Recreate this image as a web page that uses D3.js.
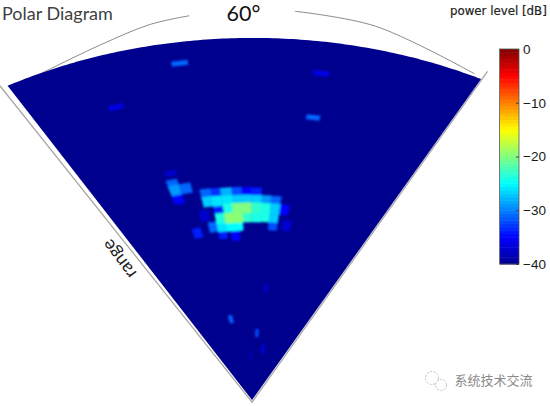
<!DOCTYPE html>
<html><head><meta charset="utf-8">
<style>html,body{margin:0;padding:0;background:#fff}svg{display:block}</style>
<script src="https://cdn.jsdelivr.net/npm/d3@7"></script>
</head><body><svg id="c" width="550" height="406"></svg>
<script>
// ---- data (angle in deg, range in % of max, level in dB) ----
const colorbarTicks = [0,-10,-20,-30,-40];
const cellAngles = [
 -8.7,-6.6,-4.4,-2.3,-0.2,2.0,
 -8.7,-6.6,-4.4,-2.3,-0.2,2.0,4.1,6.3,
 -6.6,-4.4,-2.3,-0.2,2.0,4.1,6.3,8.4,
 -6.6,-4.4,-2.3,-0.2,2.0,4.1,6.3,
 -8.7,-6.6,-4.4,-2.3,6.3,
 -6.6,
 -13.0,-3.3,-10.1,9.7,-14.7,-14.7,-12.4,-14.7];
const cellRanges = [
 57.7,57.6,57.5,57.5,57.4,57.3,
 55.5,55.4,55.3,55.3,55.3,55.2,55.2,55.1,
 53.2,53.1,53.1,53.1,53.1,53.0,53.0,52.9,
 50.6,50.5,50.5,50.5,50.5,50.6,50.6,
 48.4,48.3,48.2,48.2,48.4,
 46.3,
 47.4,45.6,51.8,48.6,60,61.6,60,57.5];
const cellLevels = [
 -31,-33,-28,-32,-35,-34,
 -27,-26,-26,-27,-27,-27,-29,-31,
 -34,-24,-20,-20,-23,-24,-27,-35,
 -24,-19.5,-19.5,-23,-24,-24,-27,
 -31,-26,-25,-25,-32,
 -34,
 -34,-35,-37,-37,-29,-31,-31,-35];
const speckAngles = [-8.3,10.3,10.5,-18.6,-10.3,4.3,6.5,10.4,-0.2,-14.4];
const speckRanges = [94.2,91.3,79,85.5,22.7,18.5,31.1,14.3,12.4,64.8];
const speckLevels = [-31,-36,-31,-36,-31,-32,-38,-35,-38,-37];
const outerArcAngles = [-26.2,-17.2,-10.7,-6.1];
const outerArcRanges = [99.7,102.8,105.8,106.9];
const outerArcAngles2 = [5.9,15.3,28.9];
const outerArcRanges2 = [107.7,106.2,100.7];
const edgeAngles = [-30.8,0,30.1];
const edgeRanges = [100.8,-0.6,102.5];
const jetLevels = [-40,-35,-25,-15,-5,0];
const jetColors = ["#00008f","#0000ff","#00ffff","#ffff00","#ff0000","#800000"];

// ---- scales ----
const svg = d3.select("#c");
const halfSpan = 28.7*Math.PI/180;
const angleS = d3.scaleLinear().domain([-30,30]).range([-halfSpan,halfSpan]);
const rangeS = d3.scaleLinear().domain([0,100]).range([0,1]);
const color = d3.scaleLinear().domain(jetLevels).range(jetColors).clamp(true);
function project(a,r){
  const t=angleS(a), R=rangeS(r), u=R*Math.sin(t), v=R*Math.cos(t);
  return [252+493*u-8.7*v, 400-362*v-7*u];
}
const line = d3.line();

// gray frame beneath the sector
const frame = svg.append("g").attr("fill","none");
frame.append("path").attr("stroke","#a8a8a8").attr("stroke-width",1.3)
  .attr("d",line(edgeAngles.map((a,i)=>project(a,edgeRanges[i]))));
const arcLine = d3.line().curve(d3.curveCatmullRom);
frame.append("path").attr("stroke","#7d7d7d").attr("stroke-width",0.9)
  .attr("d",arcLine(outerArcAngles.map((a,i)=>project(a,outerArcRanges[i]))));
frame.append("path").attr("stroke","#7d7d7d").attr("stroke-width",0.9)
  .attr("d",arcLine(outerArcAngles2.map((a,i)=>project(a,outerArcRanges2[i]))));

// sector
const arcA = d3.range(-30,30.01,0.5);
const sector = [project(0,0),...arcA.map(a=>project(a,100))];
svg.append("path").attr("d",line(sector)+"Z").attr("fill",color(-40));

// cells
const defs = svg.append("defs");
defs.append("filter").attr("id","soft").attr("x","-5%").attr("y","-5%").attr("width","110%").attr("height","110%")
  .append("feGaussianBlur").attr("stdDeviation",0.8);
function cellPath(a,r,da,dr){
  const p=[[a-da/2,r+dr/2],[a+da/2,r+dr/2],[a+da/2,r-dr/2],[a-da/2,r-dr/2]];
  return line(p.map(q=>project(q[0],q[1])))+"Z";
}
const g = svg.append("g").attr("filter","url(#soft)");
const cells = cellAngles.map((a,i)=>({a,r:cellRanges[i],l:cellLevels[i]}));
const specks = speckAngles.map((a,i)=>({a,r:speckRanges[i],l:speckLevels[i]}));
g.selectAll(".cell").data(cells.slice().sort((p,q)=>p.l-q.l)).join("path").attr("class","cell")
  .attr("d",d=>cellPath(d.a,d.r,2.14,2.7)).attr("fill",d=>color(d.l))
  .attr("stroke",d=>color(d.l)).attr("stroke-width",0.6);
g.selectAll(".speck").data(specks).join("path").attr("class","speck")
  .attr("d",d=>cellPath(d.a,d.r,2.14,d.r<40?2.2:1.4)).attr("fill",d=>color(d.l));

// colorbar
const barY = d3.scaleLinear().domain([0,-40]).range([49,264]);
const bar = svg.append("g");
const barSteps = d3.range(64).map(i=>-40+40*(i+0.5)/64);
bar.selectAll("rect").data(barSteps).join("rect")
  .attr("x",500).attr("width",19)
  .attr("y",d=>barY(d+0.3125)).attr("height",d=>barY(d-0.3125)-barY(d+0.3125)+0.5)
  .attr("fill",d=>color(d));
bar.append("rect").attr("x",499.5).attr("y",49).attr("width",19.5).attr("height",215)
  .attr("fill","none").attr("stroke","#555").attr("stroke-width",0.8);
const axis = d3.axisRight(barY).tickValues(colorbarTicks).tickSize(-3).tickPadding(4).tickFormat(d3.format("d"));
const ax = svg.append("g").attr("transform","translate(519,0)").call(axis);
ax.select(".domain").remove();
ax.selectAll("line").attr("stroke","#444");
ax.selectAll("text").attr("font-family","'Liberation Sans',Arial,sans-serif").attr("font-size",13.5).attr("fill","#1a1a1a");

// text
const txt=(s,x,y,size,fam,fill,extra)=>{const t=svg.append("text").attr("x",x).attr("y",y).attr("font-size",size).attr("font-family",fam).attr("fill",fill).text(s);if(extra)extra(t);return t;};
txt("Polar Diagram",2,20,18,"Lato,'Open Sans',sans-serif","#404040");
txt("60°",226.5,21,21.5,"Lato,'Open Sans',sans-serif","#111");
txt("power level [dB]",450,15,11.8,"'DejaVu Sans',sans-serif","#222",t=>t.attr("stroke","#222").attr("stroke-width",0.2));
txt("range",0,0,18,"Lato,'Open Sans',sans-serif","#222",t=>t.attr("text-anchor","middle").attr("transform","translate(124,255.5) rotate(233)"));

// watermark
const wm = svg.append("g").attr("fill","#fff").attr("stroke","#b5b5b5").attr("stroke-width",0.9).attr("stroke-dasharray","2 1.5");
wm.append("circle").attr("cx",432).attr("cy",378).attr("r",6.5);
wm.append("circle").attr("cx",441).attr("cy",385).attr("r",5.5);
txt("系统技术交流",454.5,385,13,"'Noto Sans CJK SC',sans-serif","#8a8a8a");
</script></body></html>
